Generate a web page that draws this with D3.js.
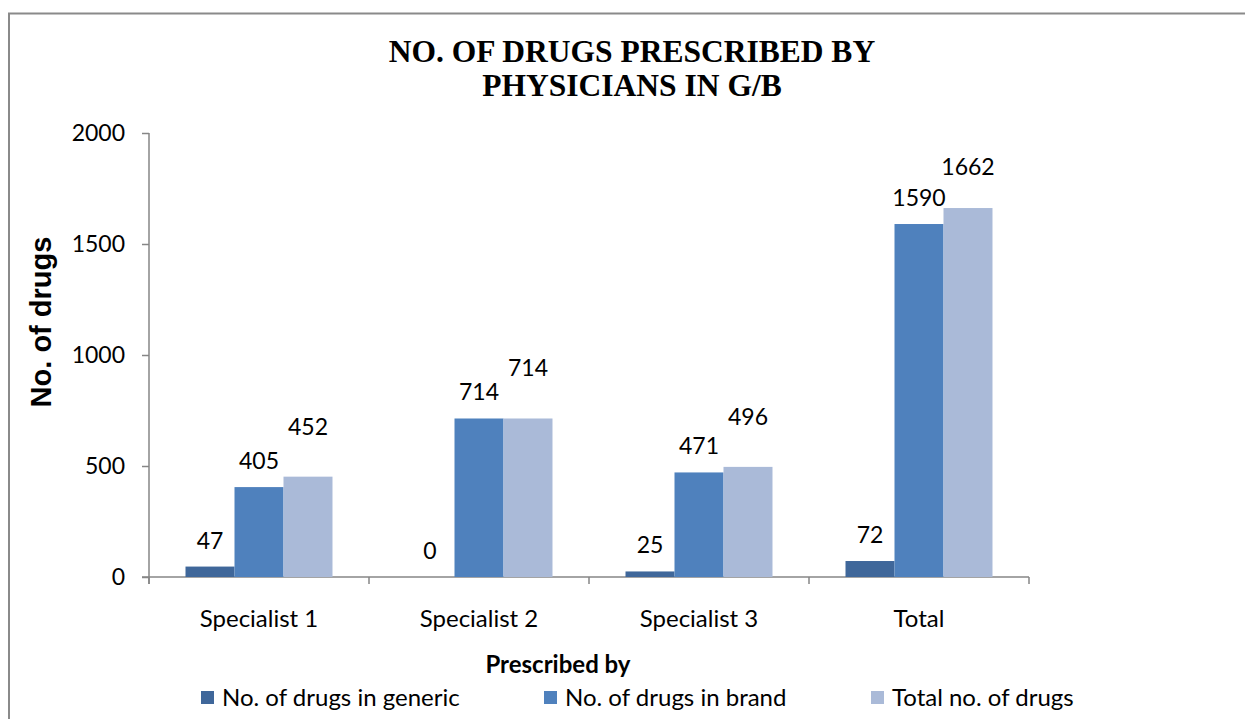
<!DOCTYPE html>
<html>
<head>
<meta charset="utf-8">
<script src="https://cdn.jsdelivr.net/npm/d3@7"></script>
<style>
  body { margin: 0; background: #fff; }
  svg { display: block; }
  .tick text { font-family: Lato, "Open Sans", sans-serif; fill: #000; }
</style>
</head>
<body>
<div id="graphic"></div>
<script>
// data
var categories = ["Specialist 1", "Specialist 2", "Specialist 3", "Total"];
var seriesNames = ["No. of drugs in generic", "No. of drugs in brand", "Total no. of drugs"];
var generic = [47, 0, 25, 72];
var brand = [405, 714, 471, 1590];
var totals = [452, 714, 496, 1662];
var yTicks = [0, 500, 1000, 1500, 2000];

var colors = ["#3F679A", "#4F81BD", "#AABAD8"];
var values = [generic, brand, totals];

var graphic = new Object;

graphic.create = function() {
  var width = 1245, height = 719;
  var svg = d3.select("#graphic").append("svg").attr("width", width).attr("height", height);
  graphic.svg = svg;

  // outer chart border (runs off the right and bottom)
  svg.append("path")
    .attr("d", "M9,725V13.5H1250")
    .attr("fill", "none").attr("stroke", "#8a8a8a").attr("stroke-width", 2);

  // title
  var title = svg.append("text").attr("text-anchor", "middle")
    .attr("font-family", "'Liberation Serif', 'Times New Roman', serif")
    .attr("font-weight", "bold").attr("font-size", 31.5);
  title.append("tspan").attr("x", 632).attr("y", 62).text("NO. OF DRUGS PRESCRIBED BY");
  title.append("tspan").attr("x", 632).attr("y", 96).text("PHYSICIANS IN G/B");

  var x0 = d3.scaleBand().domain(categories).range([149, 1029]);
  var x1 = d3.scaleBand().domain(d3.range(seriesNames.length)).range([0, x0.bandwidth()]).paddingOuter(0.745);
  var y = d3.scaleLinear().domain([0, 2000]).range([577, 133]);

  // y axis
  var yAxis = svg.append("g").attr("transform", "translate(149,0)")
    .call(d3.axisLeft(y).tickValues(yTicks).tickSize(7).tickPadding(17).tickFormat(d3.format("d")));
  yAxis.select(".domain").attr("d", "M0,133V584");
  yAxis.selectAll("line, .domain").attr("stroke", "#868686").attr("stroke-width", 1.5);
  yAxis.selectAll(".tick text").attr("font-size", 23);

  // x axis
  var xAxis = svg.append("g").attr("transform", "translate(0,577)")
    .call(d3.axisBottom(x0).tickSize(0));
  xAxis.select(".domain").attr("d", "M142,0H1029");
  xAxis.selectAll(".domain").attr("stroke", "#868686").attr("stroke-width", 1.5);
  xAxis.selectAll(".tick text").attr("dy", 0).attr("y", 50).attr("font-size", 24);
  var bounds = categories.map(function(c) { return x0(c); }).concat([x0(categories[categories.length - 1]) + x0.bandwidth()]);
  xAxis.selectAll(".bound").data(bounds).enter().append("line")
    .attr("x1", function(d) { return d; }).attr("x2", function(d) { return d; })
    .attr("y1", 0).attr("y2", 7).attr("stroke", "#868686").attr("stroke-width", 1.5);

  // bars
  var groups = svg.append("g").selectAll("g").data(categories).enter().append("g")
    .attr("transform", function(c) { return "translate(" + x0(c) + ",0)"; });
  groups.selectAll("rect").data(function(c, i) {
    return values.map(function(v, s) { return { s: s, v: v[i], c: c }; });
  }).enter().append("rect")
    .attr("x", function(d) { return x1(d.s); })
    .attr("width", x1.bandwidth())
    .attr("y", function(d) { return y(d.v); })
    .attr("height", function(d) { return y(0) - y(d.v); })
    .attr("fill", function(d) { return colors[d.s]; });

  // value labels, staggered like the original
  var lift = [26, 26, 50];
  groups.selectAll("text.val").data(function(c, i) {
    return values.map(function(v, s) { return { s: s, v: v[i], c: c }; });
  }).enter().append("text").attr("class", "val")
    .attr("x", function(d) { return x1(d.s) + x1.bandwidth() / 2; })
    .attr("y", function(d) { return y(d.v) - (d.c === "Total" && d.s === 2 ? 41 : lift[d.s]) + 8; })
    .attr("text-anchor", "middle")
    .attr("font-family", "Lato, 'Open Sans', sans-serif").attr("font-size", 23)
    .text(function(d) { return d.v; });

  // y axis title
  svg.append("text").attr("transform", "translate(51,322) rotate(-90)")
    .attr("text-anchor", "middle")
    .attr("font-family", "'Liberation Sans', Arial, sans-serif")
    .attr("font-weight", "bold").attr("font-size", 29)
    .text("No. of drugs");

  // x axis title
  svg.append("text").attr("x", 558).attr("y", 673).attr("text-anchor", "middle")
    .attr("font-family", "Lato, 'Open Sans', sans-serif")
    .attr("font-weight", "bold").attr("font-size", 24)
    .text("Prescribed by");

  // legend
  var legendX = [201, 544, 871];
  var legend = svg.append("g").selectAll("g").data(seriesNames).enter().append("g")
    .attr("transform", function(d, i) { return "translate(" + legendX[i] + ",691)"; });
  legend.append("rect").attr("width", 13).attr("height", 13)
    .attr("fill", function(d, i) { return colors[i]; });
  legend.append("text").attr("x", 21).attr("y", 15)
    .attr("font-family", "Lato, 'Open Sans', sans-serif").attr("font-size", 24)
    .text(function(d) { return d; });
};

graphic.create();
</script>
</body>
</html>
